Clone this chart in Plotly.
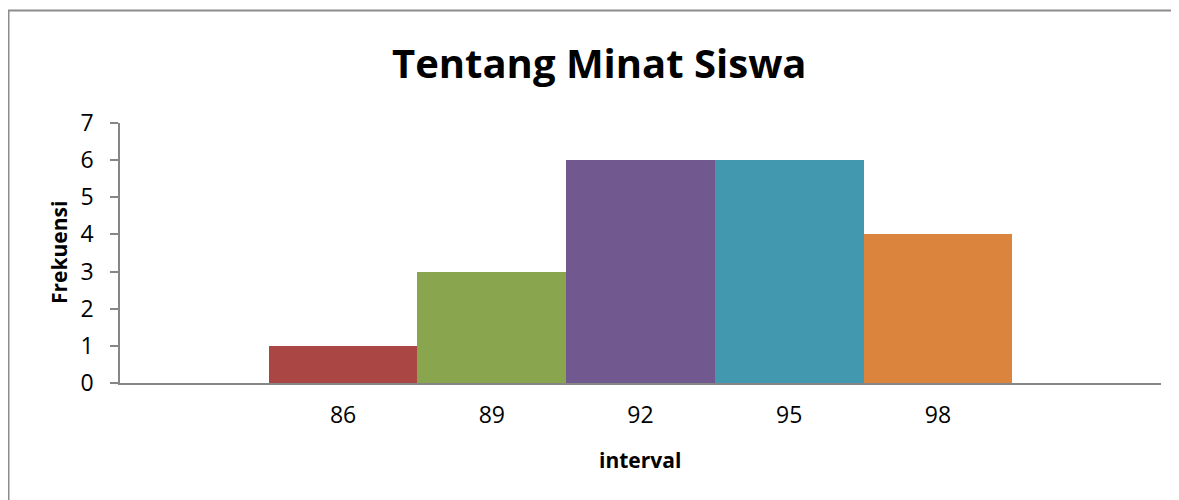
import plotly.graph_objects as go

categories = [86, 89, 92, 95, 98]
frequencies = [1, 3, 6, 6, 4]
bar_colors = ["#AA4643", "#89A54E", "#71588F", "#4198AF", "#DB843D"]
y_ticks = [0, 1, 2, 3, 4, 5, 6, 7]

# page body has an 8px margin; figure is drawn at offset (8, 8)
OFF = 8
W, H = 1179 - OFF, 500 - OFF
L, R, T, B = 120 - OFF, 18, 123 - OFF, 117
pw, ph = W - L - R, H - T - B

def px(x):  # reference pixel x -> paper
    return (x - OFF - L) / pw

def py(y):  # reference pixel y -> paper
    return (H - B - (y - OFF)) / ph

fig = go.Figure(go.Bar(
    x=categories, y=frequencies, width=3,
    marker=dict(color=bar_colors, line=dict(width=0)),
    showlegend=False,
))

font = "Open Sans"
fig.update_layout(
    width=W, height=H,
    margin=dict(l=L, r=R, t=T, b=B),
    paper_bgcolor="white", plot_bgcolor="white",
    font=dict(family=font, color="black"),
    bargap=0,
    xaxis=dict(range=[81.5, 102.5], tickvals=categories, ticktext=[str(c) for c in categories],
               showgrid=False, zeroline=False, showline=True, linecolor="#868686", linewidth=2,
               ticks="", tickfont=dict(size=23, family=font), ticklabelstandoff=10, fixedrange=True),
    yaxis=dict(range=[0, 7], tickvals=y_ticks, showgrid=False, zeroline=False,
               showline=True, linecolor="#868686", linewidth=1.5,
               ticks="outside", ticklen=8, tickcolor="#868686", tickwidth=1.5,
               tickfont=dict(size=23, family=font), ticklabelstandoff=12),
    annotations=[
        dict(text="<b>Tentang Minat Siswa</b>", x=px(599), y=py(63), xref="paper", yref="paper",
             showarrow=False, xanchor="center", yanchor="middle", font=dict(size=40, family=font)),
        dict(text="<b>Frekuensi</b>", x=px(59), y=py(253), xref="paper", yref="paper",
             showarrow=False, xanchor="center", yanchor="middle", textangle=-90,
             font=dict(size=21, family=font)),
        dict(text="<b>interval</b>", x=px(640), y=py(460), xref="paper", yref="paper",
             showarrow=False, xanchor="center", yanchor="middle", font=dict(size=21, family=font)),
    ],
    shapes=[dict(type="rect", xref="paper", yref="paper",
                 x0=px(8.5), y0=py(520), x1=px(1200), y1=py(10.5),
                 line=dict(color="#8C8C8C", width=2), fillcolor="rgba(0,0,0,0)", layer="below")],
)

fig.write_html("out.html")
